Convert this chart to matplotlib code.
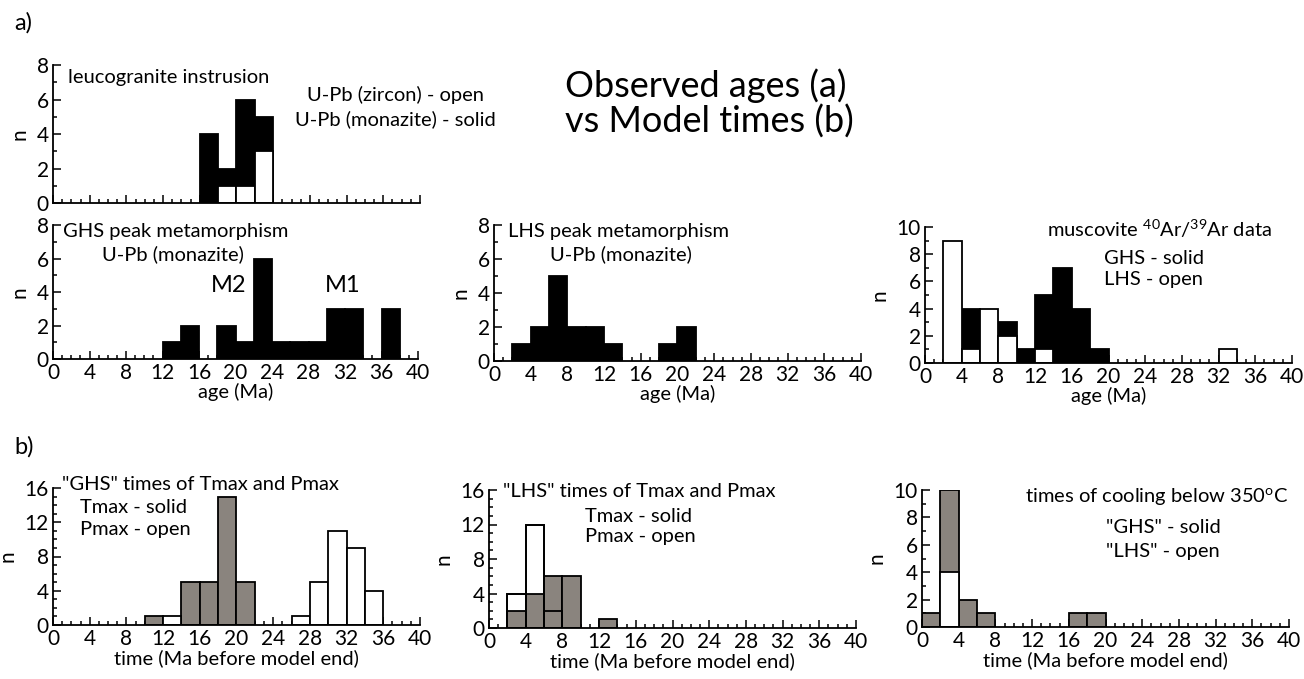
import numpy as np
import matplotlib
matplotlib.use('Agg')
import matplotlib.pyplot as plt
from matplotlib.ticker import MultipleLocator

plt.rcParams['font.family'] = ['Lato', 'DejaVu Sans']
plt.rcParams['mathtext.fontset'] = 'custom'
plt.rcParams['mathtext.rm'] = 'Lato'
plt.rcParams['mathtext.it'] = 'Lato:italic'

# 2 Ma bins from 0 to 40 Ma
bin_edges = np.arange(0, 42, 2)

# a) observed ages
leuco_monazite = [0, 0, 0, 0, 0, 0, 0, 0, 4, 2, 6, 5, 0, 0, 0, 0, 0, 0, 0, 0]
leuco_zircon   = [0, 0, 0, 0, 0, 0, 0, 0, 0, 1, 1, 3, 0, 0, 0, 0, 0, 0, 0, 0]
ghs_peak       = [0, 0, 0, 0, 0, 0, 1, 2, 0, 2, 1, 6, 1, 1, 1, 3, 3, 0, 3, 0]
lhs_peak       = [0, 1, 2, 5, 2, 2, 1, 0, 0, 1, 2, 0, 0, 0, 0, 0, 0, 0, 0, 0]
musc_ghs       = [0, 0, 4, 0, 3, 1, 5, 7, 4, 1, 0, 0, 0, 0, 0, 0, 0, 0, 0, 0]
musc_lhs       = [0, 9, 1, 4, 2, 0, 1, 0, 0, 0, 0, 0, 0, 0, 0, 0, 1, 0, 0, 0]

# b) model times
ghs_tmax = [0, 0, 0, 0, 0, 1, 0, 5, 5, 15, 5, 0, 0, 0, 0, 0, 0, 0, 0, 0]
ghs_pmax = [0, 0, 0, 0, 0, 0, 1, 0, 0, 0, 0, 0, 0, 1, 5, 11, 9, 4, 0, 0]
lhs_tmax = [0, 2, 4, 6, 6, 0, 1, 0, 0, 0, 0, 0, 0, 0, 0, 0, 0, 0, 0, 0]
lhs_pmax = [0, 4, 12, 2, 0, 0, 0, 0, 0, 0, 0, 0, 0, 0, 0, 0, 0, 0, 0, 0]
cool_ghs = [1, 10, 2, 1, 0, 0, 0, 0, 1, 1, 0, 0, 0, 0, 0, 0, 0, 0, 0, 0]
cool_lhs = [0, 4, 0, 0, 0, 0, 0, 0, 0, 0, 0, 0, 0, 0, 0, 0, 0, 0, 0, 0]

GREY = '#8a847e'
W, H = 1304, 679
fig = plt.figure(figsize=(W / 100, H / 100), dpi=100)


def panel(left, right, top, bottom):
    return fig.add_axes([left / W, 1 - bottom / H, (right - left) / W, (bottom - top) / H])


def bars(ax, counts, face):
    counts = np.asarray(counts)
    keep = counts > 0
    ax.bar(bin_edges[:-1][keep], counts[keep], width=2, align='edge',
           facecolor=face, edgecolor='black', linewidth=1.3, zorder=2)


def outline(ax, counts):
    counts = np.asarray(counts)
    keep = counts > 0
    ax.bar(bin_edges[:-1][keep], counts[keep], width=2, align='edge',
           facecolor='none', edgecolor='black', linewidth=1.3, zorder=3)


def style(ax, ymax, ymajor, xlabels=True):
    ax.set_xlim(0, 40)
    ax.set_ylim(0, ymax)
    for s in ['top', 'right']:
        ax.spines[s].set_visible(False)
    for s in ['left', 'bottom']:
        ax.spines[s].set_linewidth(1.3)
        ax.spines[s].set_zorder(4)
    ax.xaxis.set_major_locator(MultipleLocator(4))
    ax.xaxis.set_minor_locator(MultipleLocator(1))
    ax.yaxis.set_major_locator(MultipleLocator(ymajor))
    ax.yaxis.set_minor_locator(MultipleLocator(1))
    ax.tick_params(which='both', direction='in', width=1.1, labelsize=15, pad=3)
    ax.tick_params(which='major', length=6)
    ax.tick_params(which='minor', length=3)
    if not xlabels:
        ax.tick_params(axis='x', labelbottom=False)
    ax.set_ylabel('n', fontsize=15, labelpad=5)
    ax.patch.set_alpha(0)


def label(x, y, s, ha='left', size=14.5):
    fig.text(x / W, 1 - y / H, s, ha=ha, va='baseline', fontsize=size)


# leucogranite
ax = panel(53, 420, 65, 203)
bars(ax, leuco_monazite, 'black')
bars(ax, leuco_zircon, 'white')
style(ax, 8, 2, xlabels=False)

# GHS peak metamorphism
ax = panel(53, 418, 225, 359)
bars(ax, ghs_peak, 'black')
style(ax, 8, 2)
ax.set_xlabel('age (Ma)', fontsize=14.5, labelpad=0)

# LHS peak metamorphism
ax = panel(494, 861, 225, 361)
bars(ax, lhs_peak, 'black')
style(ax, 8, 2)
ax.set_xlabel('age (Ma)', fontsize=14.5, labelpad=0)

# muscovite Ar/Ar
ax = panel(925, 1292, 227, 363)
bars(ax, musc_ghs, 'black')
bars(ax, musc_lhs, 'white')
style(ax, 10, 2)
ax.set_xlabel('age (Ma)', fontsize=14.5, labelpad=0)

# model GHS Tmax / Pmax
ax = panel(53, 420, 488, 625)
bars(ax, ghs_tmax, GREY)
bars(ax, ghs_pmax, 'white')
style(ax, 16, 4)
ax.set_xlabel('time (Ma before model end)', fontsize=14.5, labelpad=0)

# model LHS Tmax / Pmax
ax = panel(489, 856, 490, 628)
bars(ax, lhs_pmax, 'white')
bars(ax, lhs_tmax, GREY)
outline(ax, lhs_pmax)
style(ax, 16, 4)
ax.set_xlabel('time (Ma before model end)', fontsize=14.5, labelpad=0)

# model cooling times
ax = panel(922, 1289, 490, 627)
bars(ax, cool_ghs, GREY)
bars(ax, cool_lhs, 'white')
style(ax, 10, 2)
ax.set_xlabel('time (Ma before model end)', fontsize=14.5, labelpad=0)

# panel annotations
label(14, 30, 'a)', size=17)
label(14, 454, 'b)', size=17)
label(565, 97, 'Observed ages (a)', size=26)
label(565, 133, 'vs Model times (b)', size=26)

label(68, 83, 'leucogranite instrusion')
label(395, 101, 'U-Pb (zircon) - open', ha='center')
label(395, 125, 'U-Pb (monazite) - solid', ha='center')

label(63, 237, 'GHS peak metamorphism')
label(173, 260, 'U-Pb (monazite)', ha='center')
label(229, 292, 'M2', ha='center', size=17)
label(343, 292, 'M1', ha='center', size=17)

label(508, 237, 'LHS peak metamorphism')
label(621, 260, 'U-Pb (monazite)', ha='center')

label(1047, 237, r'muscovite $^{40}$Ar/$^{39}$Ar data')
label(1104, 264, 'GHS - solid')
label(1104, 285, 'LHS - open')

label(62, 490, '"GHS" times of Tmax and Pmax')
label(80, 513, 'Tmax - solid')
label(80, 535, 'Pmax - open')

label(503, 497, '"LHS" times of Tmax and Pmax')
label(585, 522, 'Tmax - solid')
label(585, 542, 'Pmax - open')

label(1288, 502, r'times of cooling below 350$^{\rm o}$C', ha='right')
label(1106, 533, '"GHS" - solid')
label(1106, 557, '"LHS" - open')

fig.savefig('out.png', dpi=100, facecolor='white')
